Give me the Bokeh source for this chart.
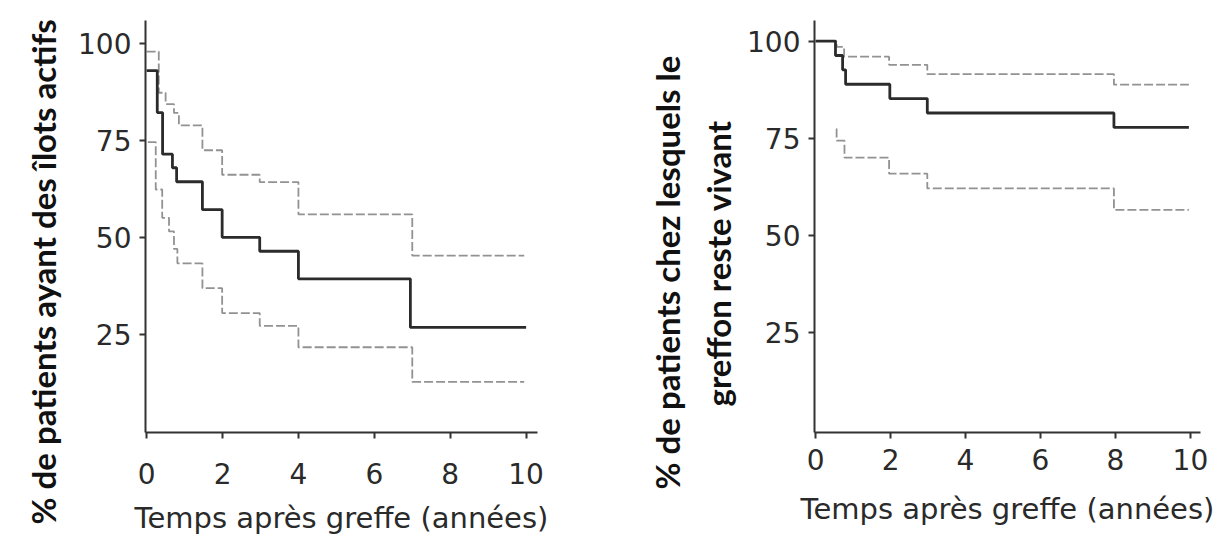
from bokeh.plotting import figure
from bokeh.models import Range1d, FixedTicker, Title
from bokeh.layouts import row
from bokeh.embed import file_html
from bokeh.resources import INLINE

# ---------------- data ----------------
x_ticks = [0, 2, 4, 6, 8, 10]
y_ticks = [25, 50, 75, 100]

# Left panel: islets still active (Kaplan-Meier, with 95% CI)
left_t = [0, 0.28, 0.42, 0.68, 0.79, 1.47, 1.99, 2.98, 4.0, 6.95, 10.0]
left_v = [92.9, 82.1, 71.4, 67.9, 64.3, 57.1, 50.0, 46.4, 39.3, 26.8, 26.8]
left_hi_t = [0, 0.32, 0.5, 0.72, 0.85, 1.47, 1.99, 2.98, 4.0, 7.0, 9.95]
left_hi_v = [97.8, 87.2, 84.3, 82.0, 78.8, 72.4, 66.1, 64.2, 55.9, 45.3, 45.3]
left_lo_t = [0.03, 0.24, 0.41, 0.59, 0.72, 0.81, 1.47, 1.99, 2.98, 4.0, 7.0, 9.95]
left_lo_v = [74.5, 62.3, 55.0, 51.5, 47.0, 43.3, 36.9, 30.5, 27.2, 21.7, 12.8, 12.8]

# Right panel: graft survival
right_t = [0, 0.53, 0.72, 0.8, 1.98, 2.98, 7.96, 9.96]
right_v = [100, 96.3, 92.6, 88.9, 85.2, 81.5, 77.8, 77.8]
right_hi_t = [0, 0.56, 0.76, 1.96, 2.98, 7.96, 9.96]
right_hi_v = [100, 98.5, 96.0, 93.9, 91.5, 88.8, 88.8]
right_lo_t = [0.55, 0.56, 0.77, 1.96, 2.98, 7.96, 9.96]
right_lo_v = [77.4, 74.4, 70.0, 65.9, 62.1, 56.6, 56.6]

x_title = "Temps après greffe (années)"
left_ylabel = "% de patients ayant des îlots actifs"
right_ylabel_1 = "% de patients chez lesquels le"
right_ylabel_2 = "greffon reste vivant"

# ---------------- style ----------------
AXIS_C = "#333333"
SOLID_C = "#2b2b2b"
DASH_C = "#929292"
TICK_FONT = "DejaVu Sans"
LABEL_FONT = "Lato"


def make_fig(width, height, xr, yr, mb, tick_standoff, title_standoff):
    p = figure(width=width, height=height, x_range=Range1d(*xr), y_range=Range1d(*yr),
               output_backend="svg", toolbar_location=None,
               min_border_left=mb[0], min_border_right=mb[1],
               min_border_top=mb[2], min_border_bottom=mb[3])
    p.outline_line_color = None
    p.grid.visible = False
    p.background_fill_color = "white"
    p.border_fill_color = "white"
    for ax in (p.xaxis[0], p.yaxis[0]):
        ax.axis_line_color = AXIS_C
        ax.axis_line_width = 2
        ax.major_tick_line_color = AXIS_C
        ax.major_tick_line_width = 2
        ax.major_tick_out = 6
        ax.major_tick_in = 0
        ax.minor_tick_line_color = None
        ax.major_label_text_font = TICK_FONT
        ax.major_label_text_font_size = "28px"
        ax.major_label_text_color = "#2a2a2a"
    p.xaxis[0].ticker = FixedTicker(ticks=x_ticks)
    p.yaxis[0].ticker = FixedTicker(ticks=y_ticks)
    p.xaxis[0].axis_label = x_title
    p.xaxis[0].axis_label_text_font = TICK_FONT
    p.xaxis[0].axis_label_text_font_size = "29px"
    p.xaxis[0].axis_label_text_font_style = "normal"
    p.xaxis[0].axis_label_text_color = "#2a2a2a"
    p.xaxis[0].axis_label_standoff = title_standoff
    p.xaxis[0].major_label_standoff = tick_standoff
    p.yaxis[0].major_label_standoff = 8
    return p


def side_title(text, offset, standoff):
    return Title(text=text, align="left", offset=offset, standoff=standoff,
                 text_font=LABEL_FONT, text_font_style="bold", text_font_size="33px",
                 text_color="#111111")


# Left figure
p1 = make_fig(600, 545, (-0.03, 10.3), (-0.25, 105.8), (145, 63, 20, 107), 24, 14)
p1.step(left_hi_t, left_hi_v, mode="after", line_color=DASH_C, line_width=1.8, line_dash="9 3")
p1.step(left_lo_t, left_lo_v, mode="after", line_color=DASH_C, line_width=1.8, line_dash="9 3")
p1.step(left_t, left_v, mode="after", line_color=SOLID_C, line_width=2.8)
p1.add_layout(side_title(left_ylabel, -92, 26), "left")

# Right figure
p2 = make_fig(625, 545, (-0.03, 10.27), (-0.7, 105.3), (214, 25, 15, 113), 10, 19)
p2.step(right_hi_t, right_hi_v, mode="after", line_color=DASH_C, line_width=1.8, line_dash="9 3")
p2.step(right_lo_t, right_lo_v, mode="after", line_color=DASH_C, line_width=1.8, line_dash="9 3")
p2.step(right_t, right_v, mode="after", line_color=SOLID_C, line_width=2.8)
p2.add_layout(side_title(right_ylabel_2, 26, 13), "left")
p2.add_layout(side_title(right_ylabel_1, -57, 5), "left")

layout = row(p1, p2)
open("out.html", "w").write(file_html(layout, INLINE))
